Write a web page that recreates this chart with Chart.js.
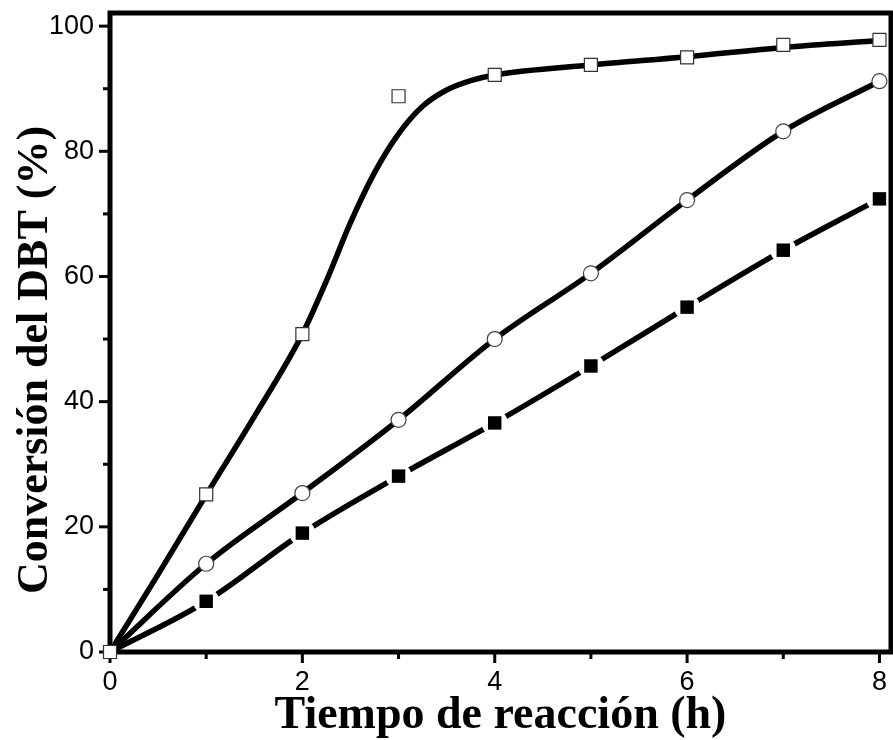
<!DOCTYPE html>
<html>
<head>
<meta charset="utf-8">
<script src="https://cdn.jsdelivr.net/npm/chart.js@4/dist/chart.umd.min.js"></script>
<style>
  html, body { margin: 0; padding: 0; background: #fff; }
  #wrap { width: 893px; height: 740px; }
</style>
</head>
<body>
<div id="wrap"><canvas id="chart" width="893" height="740"></canvas></div>
<script>
// reaction time (h)
const hours = [0, 1, 2, 3, 4, 5, 6, 7, 8];
// DBT conversion (%) for each catalyst
const convOpenSquare = [0, 25.2, 50.8, 88.8, 92.2, 93.8, 95.0, 97.0, 97.8];
const convCircle = [0, 14.1, 25.4, 37.1, 50.0, 60.5, 72.2, 83.2, 91.2];
const convFilledSquare = [0, 8.1, 19.0, 28.1, 36.6, 45.7, 55.1, 64.2, 72.4];

// fitted curve drawn through the open-square series
const fitHours = [0, 0.5, 1, 1.5, 2, 2.25, 2.5, 2.75, 3, 3.25, 3.5, 3.75, 4, 5, 6, 7, 8];
const fitOpenSquare = [0, 12.4, 25.1, 37.6, 50.8, 59.3, 68.6, 76.6, 82.8, 87.2, 89.8, 91.3, 92.2, 93.8, 95.1, 96.6, 97.7];

const xTickLabels = [0, 2, 4, 6, 8];
const yTickLabels = [0, 20, 40, 60, 80, 100];
const yTitle = 'Conversión del DBT (%)';

const pts = (xs, ys) => xs.map((x, i) => ({ x, y: ys[i] }));
const hideAtOrigin = r => ctx => (ctx.parsed && ctx.parsed.x === 0 ? 0 : r);

const tickFont = { family: '"Liberation Sans", Arial, sans-serif', size: 27 };
const serifBold = '"Liberation Serif", "Times New Roman", serif';

// box around the plot, outward tick marks (long on labelled values) and the y title
const frameTicks = {
  id: 'frameTicks',
  beforeDatasetsDraw(chart) {
    const { ctx, chartArea: a, scales: { x, y } } = chart;
    ctx.save();
    ctx.strokeStyle = '#000';
    ctx.lineWidth = 3;
    for (let v = 0; v <= 8; v++) {
      const px = x.getPixelForValue(v);
      const len = xTickLabels.includes(v) ? 9 : 5;
      ctx.beginPath();
      ctx.moveTo(px, a.bottom);
      ctx.lineTo(px, a.bottom + 2 + len);
      ctx.stroke();
    }
    for (let v = 0; v <= 100; v += 10) {
      const py = y.getPixelForValue(v);
      const len = yTickLabels.includes(v) ? 9 : 5;
      ctx.beginPath();
      ctx.moveTo(a.left, py);
      ctx.lineTo(a.left - 2 - len, py);
      ctx.stroke();
    }
    ctx.lineWidth = 5;
    ctx.strokeRect(a.left, a.top, a.right - a.left, a.bottom - a.top);

    ctx.translate(36, 360);
    ctx.rotate(-Math.PI / 2);
    ctx.fillStyle = '#000';
    ctx.font = 'bold 44px ' + serifBold;
    ctx.textAlign = 'center';
    ctx.textBaseline = 'middle';
    ctx.fillText(yTitle, 0, 0);
    ctx.restore();
  }
};

new Chart(document.getElementById('chart'), {
  type: 'line',
  data: {
    datasets: [
      // markers (on top)
      {
        data: pts(hours, convOpenSquare), showLine: false, order: 0,
        pointStyle: 'rect', pointRadius: 9.2, backgroundColor: '#fff',
        borderColor: '#333', borderWidth: 1.2, clip: false
      },
      {
        data: pts(hours, convCircle), showLine: false, order: 0,
        pointStyle: 'circle', pointRadius: hideAtOrigin(7.5), backgroundColor: '#fff',
        borderColor: '#444', borderWidth: 1.2, clip: false
      },
      {
        data: pts(hours, convFilledSquare), showLine: false, order: 0,
        pointStyle: 'rect', pointRadius: hideAtOrigin(9.5), backgroundColor: '#000',
        borderColor: '#000', borderWidth: 0, clip: false
      },
      // white gaps around the filled squares
      {
        data: pts(hours, convFilledSquare), showLine: false, order: 1,
        pointStyle: 'circle', pointRadius: hideAtOrigin(13), backgroundColor: '#fff',
        borderWidth: 0, clip: { left: 0, top: 0, right: -3, bottom: 0 }
      },
      // lines
      {
        data: pts(fitHours, fitOpenSquare), order: 2, pointRadius: 0,
        borderColor: '#000', borderWidth: 5.5, cubicInterpolationMode: 'monotone', clip: false
      },
      {
        data: pts(hours, convCircle), order: 2, pointRadius: 0,
        borderColor: '#000', borderWidth: 5.5, cubicInterpolationMode: 'monotone', clip: false
      },
      {
        data: pts(hours, convFilledSquare), order: 2, pointRadius: 0,
        borderColor: '#000', borderWidth: 5.5, cubicInterpolationMode: 'monotone', clip: false
      }
    ]
  },
  options: {
    responsive: false,
    devicePixelRatio: 1,
    animation: false,
    layout: { autoPadding: false, padding: { top: 13, right: 2, left: 0, bottom: 0 } },
    plugins: { legend: { display: false }, tooltip: { enabled: false } },
    scales: {
      x: {
        type: 'linear', min: 0, max: 8.12,
        grid: { display: false, drawTicks: false },
        border: { display: false },
        ticks: {
          stepSize: 1, includeBounds: false, autoSkip: false, maxRotation: 0,
          color: '#000', font: tickFont, padding: 14,
          callback: v => (xTickLabels.includes(v) ? v : '')
        },
        title: {
          display: true, text: 'Tiempo de reacción (h)', color: '#000',
          font: { family: serifBold, size: 46, weight: 'bold' }, padding: { top: 0, bottom: -4 }
        },
        afterFit: s => {
          s.height = 88;
          s.paddingLeft = 0; s.paddingRight = 0;
        }
      },
      y: {
        min: 0, max: 102.1,
        grid: { display: false, drawTicks: false },
        border: { display: false },
        ticks: {
          stepSize: 10, includeBounds: false, autoSkip: false,
          color: '#000', font: tickFont, padding: 16,
          callback: v => (yTickLabels.includes(v) ? v : '')
        },
        afterFit: s => {
          s.width = 110;
          s.paddingTop = 0; s.paddingBottom = 0;
        }
      }
    }
  },
  plugins: [frameTicks]
});
</script>
</body>
</html>
